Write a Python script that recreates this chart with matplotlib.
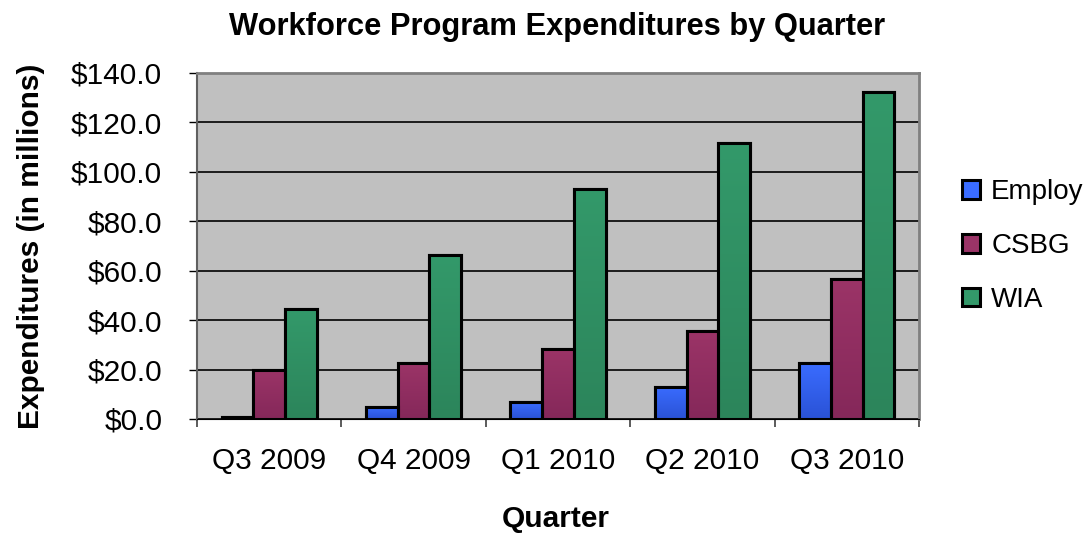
import numpy as np
import matplotlib.pyplot as plt
from matplotlib.colors import LinearSegmentedColormap

plt.rcParams['font.family'] = ['Liberation Sans', 'DejaVu Sans']

# data
quarters = ["Q3 2009", "Q4 2009", "Q1 2010", "Q2 2010", "Q3 2010"]
series = ["Employ", "CSBG", "WIA"]
employ = [1.0, 5.0, 6.8, 13.0, 22.5]
csbg = [20.0, 22.5, 28.5, 35.5, 56.5]
wia = [44.5, 66.5, 93.0, 111.5, 132.5]
values = [employ, csbg, wia]

# top colour, bottom colour
colors = [("#3a6cff", "#2a52d6"), ("#9b3467", "#85285a"), ("#33996a", "#2c855b")]

W, H = 1087, 534
fig = plt.figure(figsize=(W / 100, H / 100), dpi=100)
ax = fig.add_axes([197 / W, 1 - 419 / H, 722 / W, 346 / H])
ax.set_facecolor("#c0c0c0")

x = np.arange(len(quarters))
w = 0.22
for i, (name, vals) in enumerate(zip(series, values)):
    top, bot = colors[i]
    cmap = LinearSegmentedColormap.from_list(name, [bot, top])
    bars = ax.bar(x + (i - 1) * w, vals, w, color=top, edgecolor="black",
                  linewidth=2.2, label=name, zorder=3)
    for b in bars:
        bx, by = b.get_x(), b.get_y()
        bw, bh = b.get_width(), b.get_height()
        grad = np.linspace(0, 1, 100).reshape(-1, 1)
        im = ax.imshow(grad, cmap=cmap, origin="lower", aspect="auto",
                       extent=[bx, bx + bw, by, by + bh], zorder=3.5)
        im.set_clip_path(b)
        ax.add_patch(plt.Rectangle((bx, by), bw, bh, fill=False,
                                   edgecolor="black", linewidth=2.2, zorder=4))

ax.set_xlim(-0.5, len(quarters) - 0.5)
ax.set_ylim(0, 140)
ax.set_yticks(np.arange(0, 141, 20))
ax.set_yticklabels(["$%.1f" % v for v in np.arange(0, 141, 20)], fontsize=21.5)
ax.yaxis.grid(True, color="black", linewidth=1.2, zorder=1)
ax.set_axisbelow(True)

ax.set_xticks(x)
ax.set_xticklabels(quarters, fontsize=21.5)
ax.tick_params(axis="x", length=0, pad=20)
ax.set_xticks(np.arange(-0.5, len(quarters)), minor=True)
ax.tick_params(axis="x", which="minor", length=6, width=1.2, direction="out",
               color="#404040")
ax.tick_params(axis="y", length=6, width=1, direction="out", pad=19)

for s in ["top", "right"]:
    ax.spines[s].set_color("#808080")
    ax.spines[s].set_linewidth(2)
ax.spines["left"].set_color("#606060")
ax.spines["left"].set_linewidth(1.5)
ax.spines["bottom"].set_color("black")

fig.text(557 / W, 1 - 35 / H, "Workforce Program Expenditures by Quarter",
         fontsize=22.2, fontweight="bold", ha="center", va="baseline")
fig.text(31 / W, 1 - 246 / H, "Expenditures (in millions)", fontsize=21.5,
         fontweight="bold", rotation=90, ha="center", va="center")
fig.text(556 / W, 1 - 527 / H, "Quarter", fontsize=21.5, fontweight="bold",
         ha="center", va="baseline")

leg = ax.legend(loc="center left", bbox_to_anchor=(962 / W, 1 - 246 / H),
                bbox_transform=fig.transFigure, frameon=False,
                fontsize=20, handlelength=0.65, handleheight=0.65,
                labelspacing=1.0, handletextpad=0.4, borderpad=0,
                borderaxespad=0)

fig.savefig("out.png", dpi=100)
